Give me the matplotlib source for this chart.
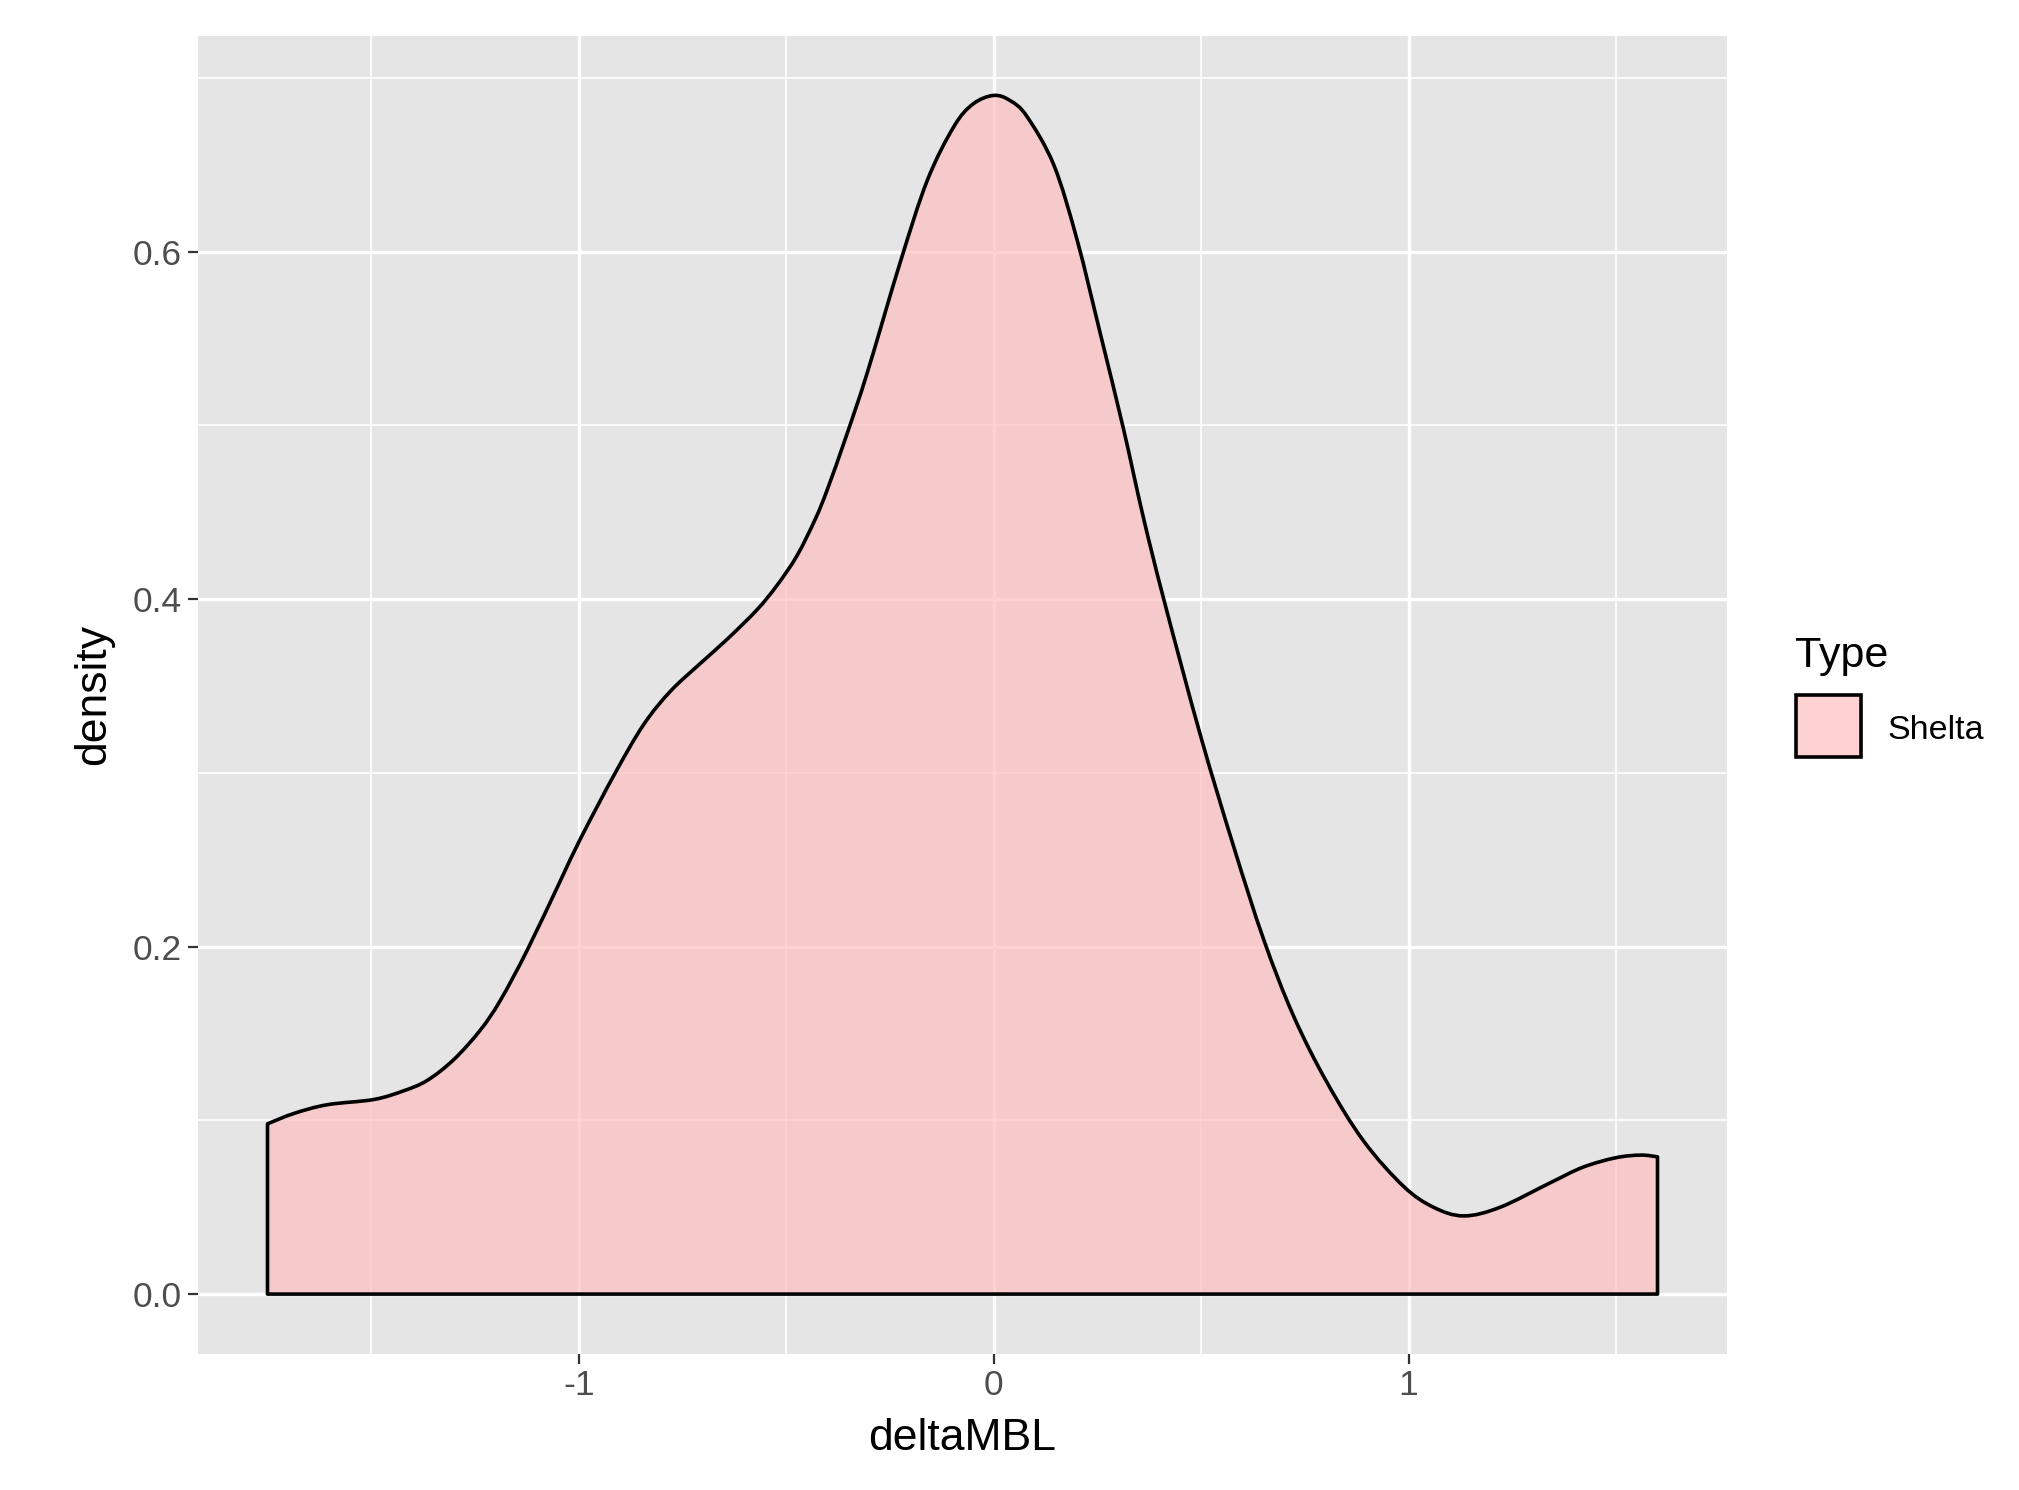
import matplotlib
matplotlib.use("Agg")
import matplotlib.pyplot as plt
from matplotlib.patches import Rectangle, PathPatch
from matplotlib.path import Path

plt.rcParams['font.family'] = ['Liberation Sans', 'DejaVu Sans']
plt.rcParams['axes.unicode_minus'] = False

# Density curve (x = deltaMBL, y = density)
delta_mbl = [-1.750, -1.686, -1.606, -1.494, -1.422, -1.365, -1.301, -1.237, -1.189,
             -1.124, -1.044, -0.996, -0.912, -0.843, -0.779, -0.707, -0.642, -0.570,
             -0.522, -0.474, -0.430, -0.401, -0.355, -0.305, -0.225, -0.160, -0.096,
             -0.050, 0.000, 0.040, 0.080, 0.145, 0.201, 0.257, 0.313, 0.360, 0.410,
             0.498, 0.578, 0.651, 0.723, 0.803, 0.892, 0.988, 1.060, 1.133, 1.221,
             1.341, 1.420, 1.500, 1.560, 1.600]
density = [0.098, 0.104, 0.109, 0.112, 0.117, 0.123, 0.135, 0.152, 0.169,
           0.198, 0.238, 0.262, 0.300, 0.328, 0.347, 0.363, 0.377, 0.394,
           0.408, 0.425, 0.446, 0.463, 0.494, 0.530, 0.594, 0.641, 0.672,
           0.685, 0.690, 0.687, 0.678, 0.650, 0.607, 0.553, 0.498, 0.448, 0.400,
           0.322, 0.258, 0.204, 0.160, 0.122, 0.088, 0.062, 0.050, 0.045, 0.050,
           0.064, 0.073, 0.0785, 0.080, 0.079]

x_ticks = [-1, 0, 1]
x_tick_labels = ['-1', '0', '1']
x_minor = [-1.5, -0.5, 0.5, 1.5]
y_ticks = [0.0, 0.2, 0.4, 0.6]
y_tick_labels = ['0.0', '0.2', '0.4', '0.6']
y_minor = [0.1, 0.3, 0.5, 0.7]
legend_title = 'Type'
legend_label = 'Shelta'

W, H = 2019, 1490
fig = plt.figure(figsize=(W / 100, H / 100), dpi=100)
fig.patch.set_facecolor('white')

left_px, right_px, top_px, bottom_px = 198, 1727, 35.5, 1354
ax = fig.add_axes([left_px / W, 1 - bottom_px / H,
                   (right_px - left_px) / W, (bottom_px - top_px) / H])
ax.set_facecolor('#E5E5E5')
for s in ax.spines.values():
    s.set_visible(False)

xmin, xmax = min(delta_mbl), max(delta_mbl)
pad = 0.05 * (xmax - xmin)
ax.set_xlim(xmin - pad, xmax + pad)
ymax = max(density)
ax.set_ylim(-0.05 * ymax, 1.05 * ymax)

ax.set_xticks(x_ticks)
ax.set_xticklabels(x_tick_labels)
ax.set_xticks(x_minor, minor=True)
ax.set_yticks(y_ticks)
ax.set_yticklabels(y_tick_labels)
ax.set_yticks(y_minor, minor=True)

ax.grid(True, which='major', color='white', linewidth=2.4, zorder=0)
ax.grid(True, which='minor', color='white', linewidth=1.2, zorder=0)
ax.set_axisbelow(True)

ax.tick_params(axis='both', which='major', length=7, width=1.6, color='#333333',
               labelsize=25.5, labelcolor='#4D4D4D')
ax.tick_params(axis='x', which='major', pad=4)
ax.tick_params(axis='y', which='major', pad=5)
ax.tick_params(axis='both', which='minor', length=0)

# Smooth outline (cubic Bezier segments through the read points)
pts = list(zip(delta_mbl, density))
n = len(pts)
verts = [(delta_mbl[0], 0.0), pts[0]]
codes = [Path.MOVETO, Path.LINETO]
for i in range(n - 1):
    p0 = pts[i - 1] if i > 0 else pts[i]
    p1 = pts[i]
    p2 = pts[i + 1]
    p3 = pts[i + 2] if i + 2 < n else pts[i + 1]
    c1 = (p1[0] + (p2[0] - p0[0]) / 6, p1[1] + (p2[1] - p0[1]) / 6)
    c2 = (p2[0] - (p3[0] - p1[0]) / 6, p2[1] - (p3[1] - p1[1]) / 6)
    verts += [c1, c2, p2]
    codes += [Path.CURVE4, Path.CURVE4, Path.CURVE4]
verts += [(delta_mbl[-1], 0.0), (delta_mbl[0], 0.0)]
codes += [Path.LINETO, Path.CLOSEPOLY]

fill_rgba = (1.0, 190 / 255, 190 / 255, 0.69)
patch = PathPatch(Path(verts, codes), facecolor=fill_rgba, edgecolor='black',
                  linewidth=2.6, joinstyle='round', zorder=3)
ax.add_patch(patch)

ax.set_xlabel('deltaMBL', fontsize=32, color='black', labelpad=11)
ax.set_ylabel('density', fontsize=32, color='black', labelpad=13)

# Legend
fig.text(1795 / W, 1 - 667 / H, legend_title, fontsize=31, color='black',
         ha='left', va='baseline')
kx, ky, kw, kh = 1796 / W, 1 - 757 / H, 65 / W, 62 / H
fig.patches.append(Rectangle((kx, ky), kw, kh, transform=fig.transFigure,
                             facecolor='white', edgecolor='none'))
fig.patches.append(Rectangle((kx, ky), kw, kh, transform=fig.transFigure,
                             facecolor=fill_rgba, edgecolor='black', linewidth=2.6))
fig.text(1887 / W, 1 - 731 / H, legend_label, fontsize=24.5, color='black',
         ha='left', va='center')

fig.savefig('out.png', dpi=100)
